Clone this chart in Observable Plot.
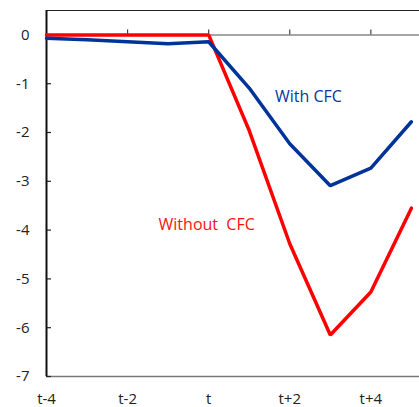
<!DOCTYPE html>
<html><head><meta charset="utf-8">
<script src="https://cdn.jsdelivr.net/npm/d3@7"></script>
<script src="https://cdn.jsdelivr.net/npm/@observablehq/plot@0.6"></script>
<style>body{margin:0;background:#fff}svg{font-family:"Open Sans",sans-serif}</style>
</head><body><div id="chart"></div>
<script>
const periods = [-4,-3,-2,-1,0,1,2,3,4,5];
const withCFC = [-0.07,-0.1,-0.14,-0.18,-0.14,-1.09,-2.23,-3.09,-2.73,-1.78];
const withoutCFC = [0,0,0,0,0,-1.96,-4.28,-6.15,-5.27,-3.55];
const xTicks = [-4,-2,0,2,4];
const xTickLabels = ["t-4","t-2","t","t+2","t+4"];
const yTicks = [0,-1,-2,-3,-4,-5,-6,-7];
const labels = [
  {text:"With CFC", x:2.46, y:-1.26, color:"#0a35a0"},
  {text:"Without\u00a0\u00a0CFC", x:-0.05, y:-3.89, color:"#ff1010"}
];
const blueRows = periods.map((p,i)=>({p, v:withCFC[i]}));
const redRows = periods.map((p,i)=>({p, v:withoutCFC[i]}));
const fmtX = d => xTickLabels[xTicks.indexOf(d)];

const chart = Plot.plot({
  width:419, height:407,
  marginLeft:46, marginRight:0, marginTop:10, marginBottom:31,
  x:{domain:[-4,5.2]},
  y:{domain:[-7,0.5]},
  style:{fontSize:"15px", fontFamily:"Open Sans, sans-serif", color:"#222"},
  marks:[
    Plot.ruleY([-7], {stroke:"#777", strokeWidth:1.5}),
    Plot.ruleY([0.5], {stroke:"#222", strokeWidth:1.2}),
    Plot.ruleY([0], {stroke:"#888", strokeWidth:1.5}),
    Plot.ruleX(xTicks.slice(1), {x:d=>d, y1:0, y2:0, insetTop:-5, stroke:"#444", strokeWidth:1.2}),
    Plot.ruleY(yTicks, {y:d=>d, x1:-4, x2:-4, insetRight:-5, stroke:"#222", strokeWidth:1.2}),
    Plot.ruleX([-4], {stroke:"#111", strokeWidth:2}),
    Plot.axisX(xTicks, {anchor:"bottom", tickSize:0, tickPadding:17, tickFormat:fmtX, fontSize:15, fill:"#222"}),
    Plot.axisY(yTicks, {anchor:"left", tickSize:0, tickPadding:17, fontSize:15, fill:"#222", tickFormat:d=>String(d)}),
    Plot.line(redRows, {x:"p", y:"v", stroke:"#ff0000", strokeWidth:3.5, strokeLinejoin:"miter"}),
    Plot.line(blueRows, {x:"p", y:"v", stroke:"#003399", strokeWidth:3.5, strokeLinejoin:"miter"}),
    Plot.text(labels, {x:"x", y:"y", text:"text", fill:"color", fontSize:16})
  ]
});
document.getElementById("chart").appendChild(chart);
</script></body></html>
